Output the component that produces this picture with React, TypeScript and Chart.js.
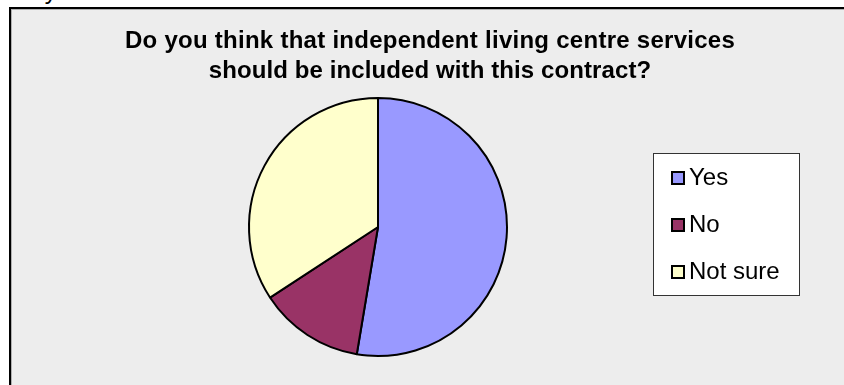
import React, { useEffect, useRef } from "react";
import { Chart, registerables } from "chart.js";

Chart.register(...registerables);

const categories = ["Yes", "No", "Not sure"];
const responses = [20, 5, 13];
const sliceColors = ["#9999FF", "#993366", "#FFFFCC"];
const titleLines = [
  "Do you think that independent living centre services",
  "should be included with this contract?",
];
const titleSpacing = ["0.27px", "0.1px"];
const aboveText = "any comments below";

const FONT = "'Liberation Sans', Arial, Helvetica, sans-serif";

const overlayPlugin = {
  id: "overlayTitleLegend",
  afterDraw(chart: any) {
    const ctx = chart.ctx as any;
    ctx.save();
    // Title
    ctx.fillStyle = "#000";
    ctx.font = `bold 24px ${FONT}`;
    ctx.textAlign = "center";
    ctx.textBaseline = "alphabetic";
    titleLines.forEach((line, i) => {
      if ("letterSpacing" in ctx) ctx.letterSpacing = titleSpacing[i];
      ctx.fillText(line, 430, 48 + i * 30);
    });
    if ("letterSpacing" in ctx) ctx.letterSpacing = "0px";

    // Legend box
    const bx = 653.5, by = 153.5, bw = 146, bh = 142;
    ctx.fillStyle = "#ffffff";
    ctx.fillRect(bx, by, bw, bh);
    ctx.strokeStyle = "#333333";
    ctx.lineWidth = 1;
    ctx.strokeRect(bx, by, bw, bh);

    const labels: string[] = chart.data.labels;
    const colors: string[] = chart.data.datasets[0].backgroundColor;
    ctx.font = `24px ${FONT}`;
    ctx.textAlign = "left";
    labels.forEach((lab, i) => {
      const cy = 178 + i * 47;
      ctx.fillStyle = colors[i];
      ctx.fillRect(672, cy - 6, 12, 12);
      ctx.strokeStyle = "#000";
      ctx.lineWidth = 2;
      ctx.strokeRect(672, cy - 6, 12, 12);
      ctx.fillStyle = "#000";
      ctx.fillText(lab, 689, cy + 7);
    });
    ctx.restore();
  },
};

export default function App() {
  const canvasRef = useRef<HTMLCanvasElement | null>(null);

  useEffect(() => {
    if (!canvasRef.current) return;
    const chart = new Chart(canvasRef.current, {
      type: "pie",
      data: {
        labels: categories,
        datasets: [
          {
            data: responses,
            backgroundColor: sliceColors,
            borderColor: "#000000",
            borderWidth: 2,
          },
        ],
      },
      options: {
        animation: false,
        responsive: false,
        maintainAspectRatio: false,
        layout: { padding: { top: 97, bottom: 28, left: 248, right: 336 } },
        plugins: {
          legend: { display: false },
          title: { display: false },
          tooltip: { enabled: false },
        },
      },
      plugins: [overlayPlugin],
    });
    return () => chart.destroy();
  }, []);

  return (
    <div
      style={{
        position: "fixed",
        left: 0,
        top: 0,
        width: 844,
        height: 385,
        overflow: "hidden",
        background: "#ffffff",
      }}
    >
      <div
        style={{
          position: "absolute",
          left: 18,
          top: -21,
          fontFamily: FONT,
          fontSize: 24,
          lineHeight: "24px",
          color: "#000",
          whiteSpace: "nowrap",
        }}
      >
        {aboveText}
      </div>
      <div
        style={{
          position: "absolute",
          left: 9,
          top: 7,
          width: 900,
          height: 500,
          borderTop: "2px solid #000",
          borderLeft: "2px solid #000",
          background: "#ededed",
          boxShadow: "inset 1px 1px 0 #b0b0b0",
        }}
      />
      <canvas
        ref={canvasRef}
        width={844}
        height={385}
        style={{ position: "absolute", left: 0, top: 0, width: 844, height: 385 }}
      />
    </div>
  );
}
